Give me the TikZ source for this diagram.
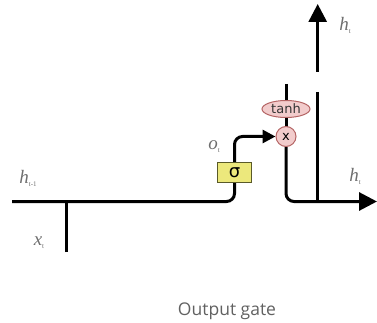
\documentclass[tikz,border=0pt]{standalone}
\usepackage{fontspec}
\setmainfont{Liberation Serif}
\newfontfamily\capfont{Open Sans}
\newfontfamily\symfont{DejaVu Sans}
\usetikzlibrary{arrows.meta,shapes.geometric,backgrounds}
\definecolor{gateyellow}{RGB}{236,232,124}
\definecolor{gateborder}{RGB}{90,90,40}
\definecolor{opfill}{RGB}{242,204,204}
\definecolor{opborder}{RGB}{180,100,100}
\definecolor{lblgray}{RGB}{110,110,110}
\newcommand{\lab}[2]{{\itshape #1}{\fontsize{7}{7}\selectfont\raisebox{-3pt}{#2}}}
\tikzset{
  wire/.style={line width=3pt, black},
  tip/.style={-{Triangle[length=#1,width=#1]}},
  lbl/.style={text=lblgray, font=\fontsize{19}{19}\selectfont, inner sep=0pt},
  gatebox/.style={draw=gateborder, line width=1pt, fill=gateyellow, minimum width=34pt, minimum height=19pt, inner sep=0pt},
  opcirc/.style={circle, draw=opborder, line width=1pt, fill=opfill, minimum size=20pt, inner sep=0pt, font=\symfont\fontsize{13}{13}\selectfont},
  opell/.style={ellipse, draw=opborder, line width=1pt, fill=opfill, minimum width=48pt, minimum height=17pt, inner sep=0pt, font=\symfont\fontsize{13}{13}\selectfont, text=black!80}
}
\begin{document}
\begin{tikzpicture}[x=1pt,y=-1pt]
\useasboundingbox (0,0) rectangle (377,323);
\node[gatebox] (sig) at (234.5,172.5) {\symfont\fontsize{18}{18}\selectfont σ};
\node[opell] (tanh) at (286,109) {tanh};
\node[opcirc] (mul) at (286,136.5) {x};
\coordinate (h0) at (12,201.5);
\coordinate (x0) at (66,252);
\coordinate (x1) at (66,201.5);
\coordinate (ctop) at (286,84);
\coordinate (hend) at (377,201.5);
\coordinate (v0) at (317.7,92);
\coordinate (v1) at (317.7,201.5);
\coordinate (u0) at (317.7,72);
\coordinate (u1) at (317.7,4);
\begin{scope}[on background layer]
\draw[wire, rounded corners=8pt] (h0) -| (sig.south);
\draw[wire] (x0) -- (x1);
\draw[wire, rounded corners=8pt, tip=13pt] (sig.north) |- (mul.west);
\draw[wire] (ctop) -- (mul.center);
\draw[wire, rounded corners=8pt, tip=18pt] (mul.south) |- (hend);
\draw[wire] (v0) -- (v1);
\draw[wire, tip=18pt] (u0) -- (u1);
\end{scope}
\node[lbl] (lh1) at (28,178) {\lab{h}{t-1}};
\node[lbl] (lx) at (39,243) {\lab{x}{t}};
\node[lbl] (lo) at (214,147) {\lab{o}{t}};
\node[lbl] (lht1) at (345,25) {\lab{h}{t}};
\node[lbl] (lht2) at (355,176) {\lab{h}{t}};
\node[text=black!62, font=\capfont\fontsize{17.5}{17.5}\selectfont, inner sep=0pt] (cap) at (227,311) {Output gate};
\end{tikzpicture}
\end{document}
